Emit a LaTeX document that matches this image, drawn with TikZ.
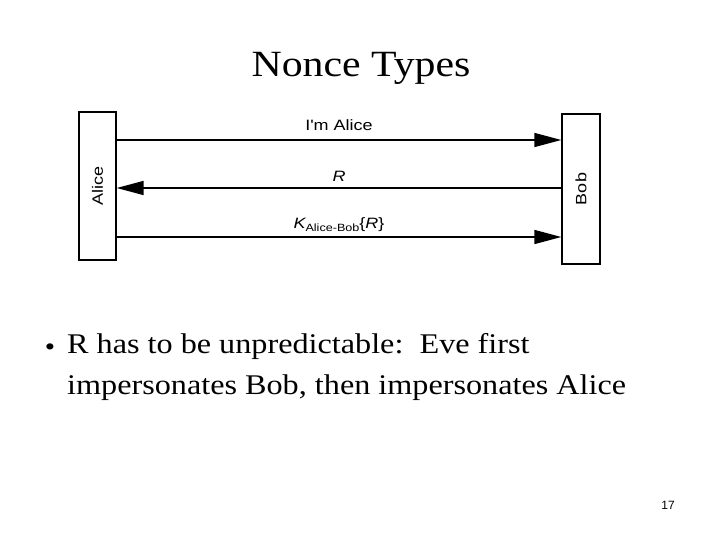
\documentclass[tikz,border=0pt]{standalone}
\usepackage{fontspec}
\setmainfont[FakeStretch=1.13]{Liberation Serif}
\newfontfamily\scanfont[FakeStretch=1.2]{Liberation Sans}
\newfontfamily\numfont{Liberation Sans}
\usetikzlibrary{arrows.meta}

\begin{document}
\begin{tikzpicture}[x=1pt, y=-1pt,
    party/.style={draw, line width=1.3pt, inner sep=0pt, font=\scanfont\fontsize{15}{15}\selectfont},
    msg/.style={line width=1.4pt, -{Triangle[length=27pt, width=14pt]}},
    msglabel/.style={font=\scanfont\fontsize{15}{15}\selectfont, midway, above, inner sep=0pt}]
    \useasboundingbox (0,0) rectangle (720,540);

    % Title:
    \node [anchor=base, font=\fontsize{37}{37}\selectfont] (title) at (361,77) {Nonce Types};

    % The two parties are tall boxes with turned names:
    \node [party, minimum width=37pt, minimum height=148pt] (alice) at (97.5,186) {\rotatebox{90}{Alice}};
    \node [party, minimum width=38pt, minimum height=150pt] (bob) at (581,189) {\rotatebox{90}{Bob}};

    % Messages:
    \coordinate (m1) at (0,140);
    \coordinate (m2) at (0,188);
    \coordinate (m3) at (0,237);
    \draw [msg] (alice.east |- m1) -- (bob.west |- m1) node [msglabel, yshift=9pt] {I'm Alice};
    \draw [msg] (bob.west |- m2) -- (alice.east |- m2) node [msglabel, yshift=6pt] {\itshape R};
    \draw [msg] (alice.east |- m3) -- (bob.west |- m3)
        node [msglabel, yshift=5pt] {{\itshape K}\raisebox{-3pt}{\fontsize{10.5}{10.5}\selectfont Alice-Bob}\{{\itshape R}\}};

    % Bullet point:
    \node [font=\fontsize{26}{26}\selectfont, inner sep=0pt] (dot) at (50,350) {•};
    \node [anchor=north west, align=left, inner sep=0pt, font=\fontsize{28.5}{41}\selectfont] (point) at (67,333)
        {R has to be unpredictable:\ \ Eve first\\impersonates Bob, then impersonates Alice};

    % Page number:
    \node [font=\numfont\fontsize{12}{12}\selectfont] (page) at (668,505) {17};
\end{tikzpicture}
\end{document}
